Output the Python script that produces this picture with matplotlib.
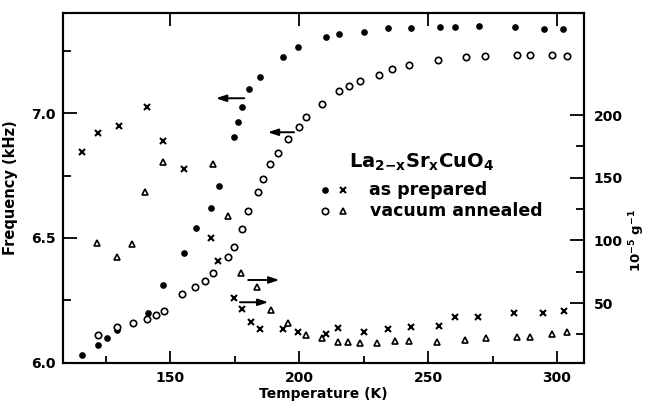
import matplotlib
matplotlib.use("Agg")
import matplotlib.pyplot as plt
from matplotlib.ticker import FixedLocator

# Czestotliwosc (lewa os) - probki "as prepared" (kropki) i "vacuum annealed" (kolka)
filled_T = [115.8, 122.0, 125.6, 129.6, 141.4, 147.4, 155.5, 160.1, 165.8, 168.8,
            174.9, 176.5, 177.8, 180.7, 184.9, 193.9, 199.7, 210.5, 215.5, 225.1,
            234.4, 243.4, 254.7, 260.3, 269.8, 283.7, 295.1, 302.4]
filled_F = [6.03, 6.07, 6.10, 6.13, 6.20, 6.31, 6.44, 6.54, 6.62, 6.71,
            6.905, 6.965, 7.025, 7.095, 7.145, 7.225, 7.265, 7.305, 7.315, 7.325,
            7.34, 7.34, 7.345, 7.345, 7.348, 7.345, 7.337, 7.335]

open_T = [122.2, 129.6, 135.8, 141.1, 144.5, 147.6, 154.8, 159.7, 163.7, 166.8,
          172.6, 174.7, 178.0, 180.3, 184.0, 186.2, 188.8, 191.9, 195.7, 199.9,
          202.7, 209.0, 215.5, 219.5, 223.5, 230.9, 236.2, 242.7, 254.0, 264.7,
          272.0, 284.4, 289.5, 298.2, 303.8]
open_F = [6.113, 6.143, 6.159, 6.175, 6.192, 6.208, 6.275, 6.305, 6.329, 6.359,
          6.424, 6.465, 6.537, 6.609, 6.684, 6.735, 6.796, 6.841, 6.895, 6.945,
          6.985, 7.035, 7.087, 7.108, 7.129, 7.151, 7.176, 7.192, 7.212, 7.225,
          7.229, 7.233, 7.233, 7.233, 7.229]

# Prawa os (10^-5 g^-1) - krzyzyki i trojkaty
cross_T = [116.0, 122.2, 130.3, 141.2, 147.4, 155.5, 165.8, 168.5, 174.9, 177.9,
           181.4, 184.9, 193.7, 199.7, 210.4, 215.3, 225.1, 234.4, 243.3, 254.4,
           260.5, 269.3, 283.4, 294.7, 302.7]
cross_R = [170.8, 185.5, 191.5, 206.2, 179.3, 157.2, 101.7, 83.6, 53.8, 45.0,
           35.1, 29.3, 29.3, 27.1, 25.3, 29.8, 27.1, 29.5, 30.9, 31.7,
           39.1, 38.6, 41.8, 41.8, 43.9]

tri_T = [121.8, 129.6, 135.3, 140.3, 147.4, 166.5, 172.6, 177.6, 183.8, 189.3,
         195.9, 202.6, 208.8, 215.2, 219.1, 223.6, 230.1, 237.3, 242.7, 253.6,
         264.3, 272.4, 284.4, 289.7, 298.1, 303.8]
tri_R = [98.2, 86.5, 97.1, 138.9, 162.8, 160.7, 119.5, 74.2, 63.0, 44.5,
         33.8, 24.5, 22.3, 19.2, 19.2, 17.9, 18.4, 19.7, 19.7, 18.7,
         20.5, 21.9, 22.9, 22.7, 25.3, 26.7]

# Strzalki: (T start, T koniec, wysokosc na lewej osi)
arrows = [(178.8, 167.8, 7.059), (198.1, 187.9, 6.923),
          (180.3, 192.4, 6.332), (177.1, 188.1, 6.243)]

plt.rcParams["font.family"] = "DejaVu Sans"
plt.rcParams["font.weight"] = "bold"
plt.rcParams["mathtext.fontset"] = "custom"
plt.rcParams["mathtext.rm"] = "DejaVu Sans:bold"
plt.rcParams["mathtext.it"] = "DejaVu Sans:bold"
plt.rcParams["mathtext.bf"] = "DejaVu Sans:bold"
plt.rcParams["mathtext.default"] = "rm"

fig = plt.figure(figsize=(6.49, 4.04), dpi=100)
ax = fig.add_axes([0.097, 0.1015, 0.803, 0.8663])
ax2 = ax.twinx()

ax.plot(filled_T, filled_F, "o", color="k", ms=3.8, ls="none")
ax.plot(open_T, open_F, "o", mfc="white", mec="k", mew=1.2, ms=4.6, ls="none")
ax2.plot(cross_T, cross_R, "x", color="k", ms=5, mew=1.5, ls="none")
ax2.plot(tri_T, tri_R, "^", mfc="white", mec="k", mew=1.2, ms=4.8, ls="none")

for t0, t1, f in arrows:
    ax.annotate("", xy=(t1, f), xytext=(t0, f),
                arrowprops=dict(arrowstyle="-|>,head_length=0.6,head_width=0.2",
                                color="k", lw=1.4, shrinkA=0, shrinkB=0))

ax.set_xlim(108.5, 310.5)
ax.set_ylim(6.0, 7.4)
ax2.set_ylim(2.2, 281.5)

ax.xaxis.set_major_locator(FixedLocator([150, 200, 250, 300]))
ax.xaxis.set_minor_locator(FixedLocator([125, 175, 225, 275]))
ax.yaxis.set_major_locator(FixedLocator([6.0, 6.5, 7.0]))
ax.yaxis.set_minor_locator(FixedLocator([6.25, 6.75, 7.25]))
ax2.yaxis.set_major_locator(FixedLocator([50, 100, 150, 200]))
ax2.yaxis.set_minor_locator(FixedLocator([25, 75, 125, 175]))
ax.set_yticklabels(["6.0", "6.5", "7.0"])
ax.set_xticklabels(["150", "200", "250", "300"])
ax2.set_yticklabels(["50", "100", "150", "200"])

ax.tick_params(axis="both", which="both", direction="in", labelsize=10, width=1.3)
ax.tick_params(axis="x", which="major", length=9, top=True, pad=6)
ax.tick_params(axis="x", which="minor", length=5, top=False)
ax.tick_params(axis="y", which="major", length=10, pad=5)
ax.tick_params(axis="y", which="minor", length=6)
ax2.tick_params(axis="y", which="both", direction="in", labelsize=10, width=1.3, pad=7)
ax2.tick_params(axis="y", which="major", length=10)
ax2.tick_params(axis="y", which="minor", length=6)

for a in (ax, ax2):
    for s in a.spines.values():
        s.set_linewidth(1.5)

ax.set_xlabel("Temperature (K)", fontsize=10, fontweight="bold")
ax.set_ylabel("Frequency (kHz)", fontsize=10.5, fontweight="bold")
ax2.set_ylabel(r"10$^{-5}$ g$^{-1}$", fontsize=9.5, fontweight="bold")
ax.xaxis.set_label_coords(0.5, -0.068)
ax.yaxis.set_label_coords(-0.087, 0.5)
ax2.yaxis.set_label_coords(1.084, 0.35)

# Opis w srodku wykresu
ax.text(0.548, 0.572, r"La$_{2\mathrm{-x}}$Sr$_\mathrm{x}$CuO$_4$", transform=ax.transAxes,
        fontsize=14, ha="left", va="center")
ax.plot([0.503], [0.494], "o", color="k", ms=3.8, transform=ax.transAxes)
ax.plot([0.537], [0.494], "x", color="k", ms=5, mew=1.5, transform=ax.transAxes)
ax.plot([0.503], [0.434], "o", mfc="white", mec="k", mew=1.2, ms=4.6, transform=ax.transAxes)
ax.plot([0.537], [0.434], "^", mfc="white", mec="k", mew=1.2, ms=4.8, transform=ax.transAxes)
ax.text(0.587, 0.494, "as prepared", transform=ax.transAxes, fontsize=12.5,
        ha="left", va="center")
ax.text(0.589, 0.434, "vacuum annealed", transform=ax.transAxes, fontsize=12.5,
        ha="left", va="center")

fig.savefig("out.png", dpi=100)
